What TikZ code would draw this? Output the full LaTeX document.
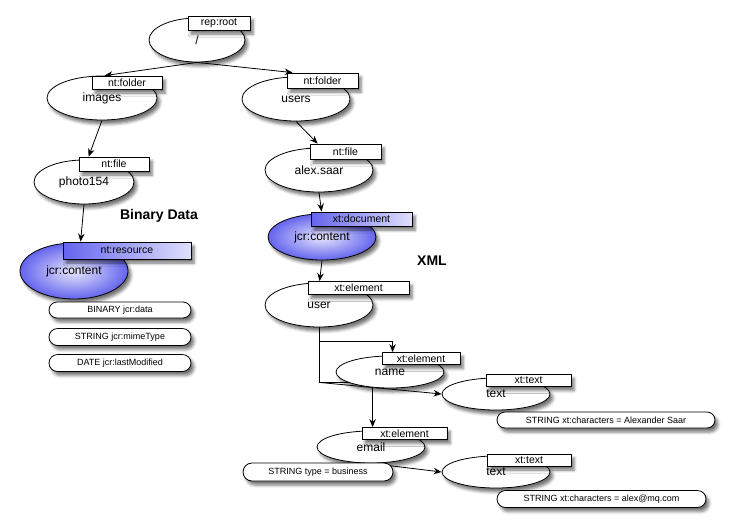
\documentclass[tikz,border=0pt]{standalone}
\usepackage{fontspec}
\setmainfont{Liberation Sans}
\usetikzlibrary{shapes.geometric,shapes.misc,shadows.blur,arrows.meta,backgrounds}
\definecolor{nodeblue}{RGB}{100,100,238}

\begin{document}
\begin{tikzpicture}[
            x=1pt, y=-1pt,
            dropsh/.style={blur shadow={shadow xshift=3pt, shadow yshift=-4pt, shadow blur radius=3pt, shadow opacity=55}},
            objbase/.style={ellipse, draw, line width=0.8pt, inner sep=0pt, minimum width=108pt, minimum height=44pt, font=\fontsize{12}{14}\selectfont, dropsh},
            obj/.style={objbase, fill=white},
            objsm/.style={obj, minimum height=32pt},
            content/.style={objbase, inner color=nodeblue!15, outer color=nodeblue},
            tag/.style={rectangle, draw, line width=0.8pt, fill=white, inner sep=0pt, minimum height=13pt, font=\fontsize{10.5}{12}\selectfont, dropsh},
            bluetag/.style={tag, left color=nodeblue, right color=nodeblue!20},
            prop/.style={rounded rectangle, draw, line width=0.8pt, fill=white, inner sep=0pt, minimum height=17pt, font=\fontsize{9}{10}\selectfont, dropsh},
            head/.style={font=\fontsize{14}{16}\selectfont\bfseries},
            link/.style={line width=0.8pt, -{Stealth[length=8pt,width=6.5pt]}}
            ]
            \useasboundingbox (0,0) rectangle (734,531);

            % repository tree
            \node[obj, minimum width=96pt] (root) at (197,40) {/};
            \node[tag, minimum width=62pt, minimum height=14pt] (rootT) at (219,23) {rep:root};
            \node[obj, minimum width=110pt] (images) at (102,98) {images};
            \node[tag, minimum width=70pt] (imagesT) at (127,82.5) {nt:folder};
            \node[obj] (users) at (296,99) {users};
            \node[tag, minimum width=71pt, minimum height=15pt] (usersT) at (322.5,80.5) {nt:folder};
            \node[obj, minimum width=100pt] (photo) at (84,182) {photo154};
            \node[tag, minimum width=70pt, minimum height=14pt] (photoT) at (114,164) {nt:file};
            \node[obj] (alex) at (319,170) {alex.saar};
            \node[tag, minimum width=71pt, minimum height=15pt] (alexT) at (345.5,151.5) {nt:file};

            % binary data
            \node[head] (bin) at (159,216) {Binary Data};
            \node[content, minimum height=56pt] (res) at (74,271) {jcr:content};
            \node[bluetag, minimum width=128pt, minimum height=17pt] (resT) at (127,250.5) {nt:resource};
            \node[prop, minimum width=142pt, minimum height=16pt] (data) at (120,310) {BINARY jcr:data};
            \node[prop, minimum width=142pt] (mime) at (120,337) {STRING jcr:mimeType};
            \node[prop, minimum width=142pt] (modif) at (120,363) {DATE jcr:lastModified};

            % xml
            \node[head] (xml) at (432,261) {XML};
            \node[content, minimum height=46pt] (doc) at (322,237) {jcr:content};
            \node[bluetag, minimum width=101pt, minimum height=14pt] (docT) at (361.5,219) {xt:document};
            \node[obj] (user) at (319,305) {user};
            \node[tag, minimum width=101pt] (userT) at (358.5,288) {xt:element};
            \node[objsm] (name) at (390,372) {name};
            \node[tag, minimum width=78pt, minimum height=12pt] (nameT) at (421,358.5) {xt:element};
            \node[objsm] (text1) at (496,394) {text};
            \node[tag, minimum width=85pt, minimum height=12pt] (text1T) at (528.5,380.5) {xt:text};
            \node[prop, minimum width=218pt, minimum height=16pt] (chars1) at (606,420) {STRING xt:characters = Alexander Saar};
            \node[objsm] (email) at (371,447) {email};
            \node[tag, minimum width=85pt, minimum height=12pt] (emailT) at (404.5,433.5) {xt:element};
            \node[prop, minimum width=150pt, minimum height=18pt] (type) at (318,472) {STRING type = business};
            \node[objsm] (text2) at (496,472) {text};
            \node[tag, minimum width=84pt, minimum height=12pt] (text2T) at (529,460) {xt:text};
            \node[prop, minimum width=209pt] (chars2) at (601.5,499) {STRING xt:characters = alex@mq.com};

            \coordinate (split) at ([yshift=-55pt]user.south);

            \begin{scope}[on background layer]
            \draw[link] (root.south) -- ([xshift=13pt]imagesT.north west);
            \draw[link] (root.south) -- ([xshift=6pt]usersT.north west);
            \draw[link] (images.south) -- ([xshift=10pt]photoT.north west);
            \draw[link] (users.south) -- ([xshift=8pt]alexT.north west);
            \draw[link] (photo.south) -- ([xshift=18pt]resT.north west);
            \draw[link] (alex.south) -- ([xshift=11pt]docT.north west);
            \draw[link] (doc.south) -- ([xshift=12pt]userT.north west);
            \draw[link] (user.south) -- ++(0,14) -| ([xshift=11pt]nameT.north west);
            \draw[link] (user.south) -- (split) -| ([xshift=11pt]emailT.north west);
            \draw[link] (split) -- (text1.west);
            \draw[link] (email.south) -- (text2.west);
            \end{scope}

\end{tikzpicture}
\end{document}
